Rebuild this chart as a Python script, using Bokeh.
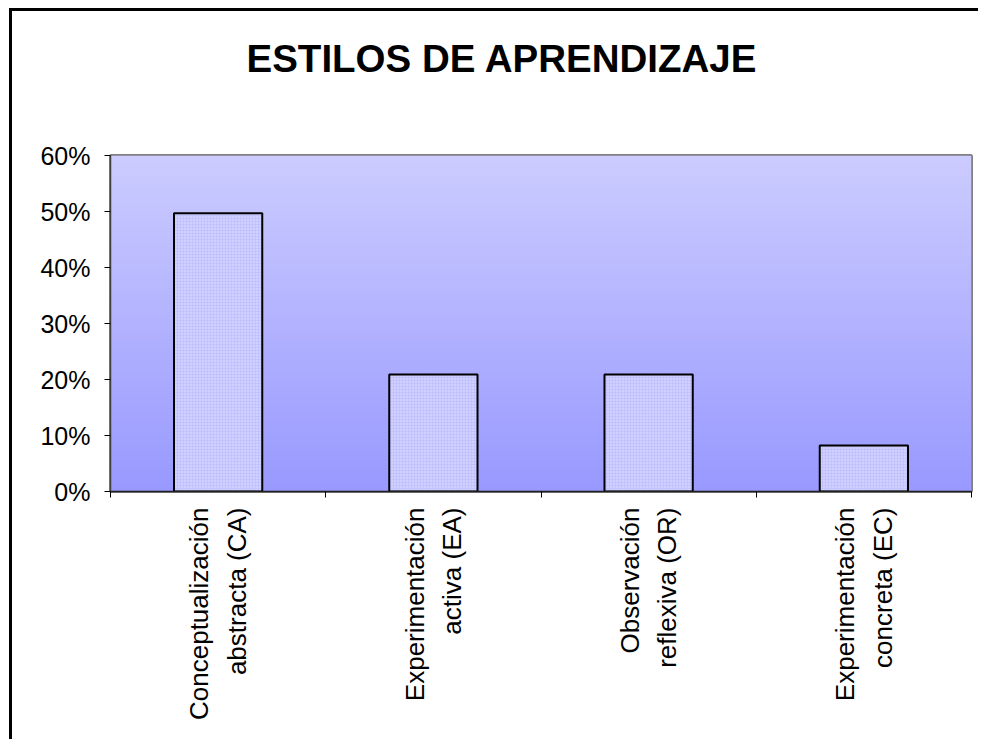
import math
import numpy as np
from bokeh.plotting import figure
from bokeh.models import FixedTicker, NumeralTickFormatter, Range1d
from bokeh.embed import file_html
from bokeh.resources import INLINE

title_text = "ESTILOS DE APRENDIZAJE"
categories = [
    "Conceptualización\nabstracta (CA)",
    "Experimentación\nactiva (EA)",
    "Observación\nreflexiva (OR)",
    "Experimentación\nconcreta (EC)",
]
values = [0.497, 0.209, 0.209, 0.082]
y_ticks = [0.0, 0.1, 0.2, 0.3, 0.4, 0.5, 0.6]

n = len(categories)
centers = [i + 0.5 for i in range(n)]
boundaries = [float(i) for i in range(n + 1)]
y_max = y_ticks[-1]

p = figure(
    width=969, height=731,
    x_range=Range1d(0, n), y_range=Range1d(0, y_max),
    output_backend="svg", toolbar_location=None,
    min_border_left=98, min_border_right=10,
    min_border_top=144, min_border_bottom=251,
)
p.background_fill_color = "white"
p.border_fill_color = "white"
p.styles = {
    "border-left": "3px solid black",
    "border-top": "3px solid black",
    "margin-left": "9px",
    "margin-top": "8px",
}

# vertical gradient for plot area
rows = 256
t = np.linspace(0.0, 1.0, rows)[:, None]
c_top = np.array([204, 204, 255])
c_bot = np.array([153, 153, 255])
rgb = c_bot + (c_top - c_bot) * t
img = np.empty((rows, 1), dtype=np.uint32)
view = img.view(dtype=np.uint8).reshape((rows, 1, 4))
view[:, 0, 0] = rgb[:, 0]
view[:, 0, 1] = rgb[:, 1]
view[:, 0, 2] = rgb[:, 2]
view[:, 0, 3] = 255
p.image_rgba(image=[img], x=0, y=0, dw=n, dh=y_max)

p.vbar(x=centers, top=values, bottom=0, width=0.41,
       fill_color="#C2C2FF", line_color="black", line_width=2,
       hatch_pattern="dot", hatch_color="white", hatch_scale=3, hatch_alpha=0.6)

p.grid.visible = False
p.outline_line_color = "#808080"
p.outline_line_width = 3

# title (an empty second line keeps it well above the plot area)
p.title.text = title_text + "\n "
p.title.text_font = "Liberation Sans"
p.title.text_font_size = "38.5px"
p.title.text_font_style = "bold"
p.title.text_color = "black"
p.title.text_line_height = 1.65
p.title.align = "left"
p.title.vertical_align = "bottom"
p.title.offset = 136
p.title.standoff = 10

# x axis
xa = p.xaxis[0]
xa.ticker = FixedTicker(ticks=centers, minor_ticks=boundaries)
xa.major_label_overrides = {c: lab for c, lab in zip(centers, categories)}
xa.major_tick_line_color = None
xa.major_tick_out = 6
xa.minor_tick_line_color = "black"
xa.minor_tick_out = 6
xa.minor_tick_in = 0
xa.axis_line_color = "#202020"
xa.axis_line_width = 1.5
xa.major_label_orientation = math.pi / 2
xa.major_label_standoff = 10
xa.major_label_text_font = "Liberation Sans"
xa.major_label_text_font_size = "26px"
xa.major_label_text_color = "black"
xa.major_label_text_line_height = 1.25

# y axis
ya = p.yaxis[0]
ya.ticker = FixedTicker(ticks=y_ticks)
ya.formatter = NumeralTickFormatter(format="0%")
ya.major_tick_out = 6
ya.major_tick_in = 0
ya.minor_tick_line_color = None
ya.major_tick_line_color = "black"
ya.axis_line_color = "#404040"
ya.axis_line_width = 1.5
ya.major_label_standoff = 14
ya.major_label_text_font = "Liberation Sans"
ya.major_label_text_font_size = "25px"
ya.major_label_text_color = "black"

open("out.html", "w").write(file_html(p, INLINE))
